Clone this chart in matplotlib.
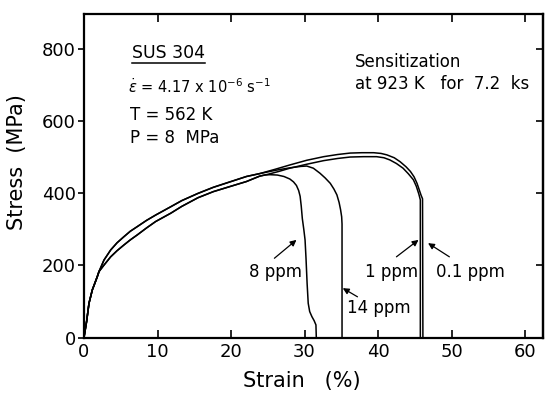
import matplotlib
matplotlib.use('Agg')
import matplotlib.pyplot as plt
from matplotlib.lines import Line2D

# ---------------- data ----------------
strain_ticks = [0, 10, 20, 30, 40, 50, 60]
stress_ticks = [0, 200, 400, 600, 800]

# 0.1 ppm
s01_strain = [0, 0.36, 0.68, 1.13, 1.5, 1.81, 2.04, 2.72, 3.63, 4.5, 5.44, 6.3, 7.26, 8.5,
              9.75, 11.8, 13.3, 15.5, 17.6, 20.0, 22.1, 23.9, 26.0, 28.0, 30.3, 32.6,
              34.5, 36.2, 37.8, 39.4, 40.4, 41.2, 42.2, 43.0, 43.8, 44.4, 44.9, 45.3,
              45.6, 45.85, 46.05, 46.1]
s01_stress = [0, 45, 95, 132, 152, 169, 183, 215, 243, 263, 280, 295, 308, 325,
              340, 363, 380, 400, 417, 433, 447, 455, 467, 479, 492, 502,
              508, 512, 513, 513, 511, 507, 499, 488, 474, 461, 446, 428,
              410, 395, 385, 0]

# 1 ppm
s1_strain = [0, 0.36, 0.68, 1.13, 1.5, 1.81, 2.04, 2.72, 3.63, 4.5, 5.44, 6.3, 7.26, 8.5,
             9.75, 11.8, 13.3, 15.5, 17.6, 20.0, 22.1, 23.9, 25.0, 26.5, 28.0, 30.3,
             32.6, 34.5, 36.2, 38.0, 39.8, 40.8, 41.6, 42.5, 43.4, 44.1, 44.8, 45.2,
             45.55, 45.75, 45.75]
s1_stress = [0, 45, 95, 132, 152, 169, 183, 201, 224, 241, 257, 271, 285, 304,
             322, 345, 364, 388, 405, 420, 433, 448, 453, 461, 470, 481,
             491, 497, 501, 502, 502, 499, 493, 483, 470, 455, 438, 420,
             398, 382, 0]

# 14 ppm
s14_strain = [0, 0.36, 0.68, 1.13, 1.5, 1.81, 2.04, 2.72, 3.63, 4.5, 5.44, 6.3, 7.26, 8.5,
              9.75, 11.8, 13.3, 15.5, 17.6, 20.0, 22.1, 23.9, 26.0, 28.0, 29.5, 30.3,
              31.2, 32.1, 32.8, 33.5, 34.0, 34.4, 34.7, 34.9, 35.05, 35.1, 35.1]
s14_stress = [0, 45, 95, 132, 152, 169, 183, 215, 243, 263, 280, 295, 308, 325,
              340, 363, 380, 400, 417, 433, 447, 455, 464, 471, 475, 476,
              470, 456, 443, 428, 412, 396, 375, 355, 335, 315, 0]

# 8 ppm
s8_strain = [0, 0.36, 0.68, 1.13, 1.5, 1.81, 2.04, 2.72, 3.63, 4.5, 5.44, 6.3, 7.26, 8.5,
             9.75, 11.8, 13.3, 15.5, 17.6, 20.0, 22.1, 23.9, 24.6, 25.3, 26.3, 27.2,
             28.0, 28.5, 28.9, 29.2, 29.4, 29.55, 29.7, 29.9, 30.07, 30.2, 30.35, 30.5,
             30.7, 31.0, 31.3, 31.55, 31.6]
s8_stress = [0, 45, 95, 132, 152, 169, 183, 201, 224, 241, 257, 271, 285, 304,
             322, 345, 364, 388, 405, 420, 433, 448, 451, 452, 451, 447,
             440, 432, 422, 408, 392, 365, 330, 300, 271, 220, 150, 95,
             72, 58, 47, 35, 0]

series = [(s01_strain, s01_stress), (s1_strain, s1_stress),
          (s14_strain, s14_stress), (s8_strain, s8_stress)]

# labels: text, label position, arrow head, arrow tail
labels = ["8 ppm", "14 ppm", "1 ppm", "0.1 ppm"]
label_x = [26.0, 40.1, 41.8, 52.5]
label_y = [183, 81, 183, 183]
head_x = [28.9, 35.2, 45.5, 46.8]
head_y = [271, 137, 271, 262]
tail_x = [25.9, 37.2, 42.5, 49.7]
tail_y = [220, 113, 224, 224]

# ---------------- figure ----------------
plt.rcParams['font.family'] = ['DejaVu Sans']
fig = plt.figure(figsize=(5.45, 3.96), dpi=100)
ax = fig.add_axes([0.1541, 0.1477, 0.8431, 0.8169])

for xs, ys in series:
    ax.plot(xs, ys, color='black', lw=1.1, solid_joinstyle='round')

ax.set_xlim(0, 62.5)
ax.set_ylim(0, 898)
ax.set_xticks(strain_ticks)
ax.set_yticks(stress_ticks)
ax.tick_params(axis='x', direction='in', top=True, length=6, width=1.2,
               labelsize=13, pad=4)
ax.tick_params(axis='y', direction='out', length=4, width=1.2,
               labelsize=13, pad=2)
sec = ax.secondary_yaxis('right')
sec.set_yticks(stress_ticks)
sec.tick_params(direction='in', length=5, width=1.2, labelright=False)
for sp in list(ax.spines.values()) + list(sec.spines.values()):
    sp.set_linewidth(1.6)

ax.set_xlabel("Strain   (%)", fontsize=15, labelpad=3)
ax.xaxis.set_label_coords(0.473, -0.105)
ax.set_ylabel("Stress  (MPa)", fontsize=15, labelpad=4)
ax.yaxis.set_label_coords(-0.124, 0.5425)

for t, lx, ly, hx, hy, tx, ty in zip(labels, label_x, label_y, head_x, head_y, tail_x, tail_y):
    ax.text(lx, ly, t, fontsize=12, ha='center', va='center')
    ax.annotate("", xy=(hx, hy), xytext=(tx, ty),
                arrowprops=dict(arrowstyle='-|>', lw=0.9, color='black',
                                mutation_scale=9, shrinkA=0, shrinkB=0))

sus = ax.text(6.5, 776, "SUS 304", fontsize=12.5, ha='left', va='baseline')
ax.text(6.0, 678, r"$\dot{\varepsilon}$ = 4.17 x 10$^{-6}$ s$^{-1}$", fontsize=10.5,
        ha='left', va='baseline')
ax.text(6.2, 604, "T = 562 K", fontsize=12, ha='left', va='baseline')
ax.text(6.2, 541, "P = 8  MPa", fontsize=12, ha='left', va='baseline')
ax.text(36.9, 752, "Sensitization", fontsize=12, ha='left', va='baseline')
ax.text(36.9, 689, "at 923 K   for  7.2  ks", fontsize=12, ha='left', va='baseline')

# underline for "SUS 304"
fig.canvas.draw()
bb = sus.get_window_extent()
inv = fig.transFigure.inverted()
(x0, y0), (x1, _) = inv.transform([(bb.x0, bb.y0 - 1), (bb.x1, bb.y0 - 1)])
fig.add_artist(Line2D([x0, x1], [y0, y0], transform=fig.transFigure,
                      color='black', lw=1.1))

fig.savefig("out.png", dpi=100)
